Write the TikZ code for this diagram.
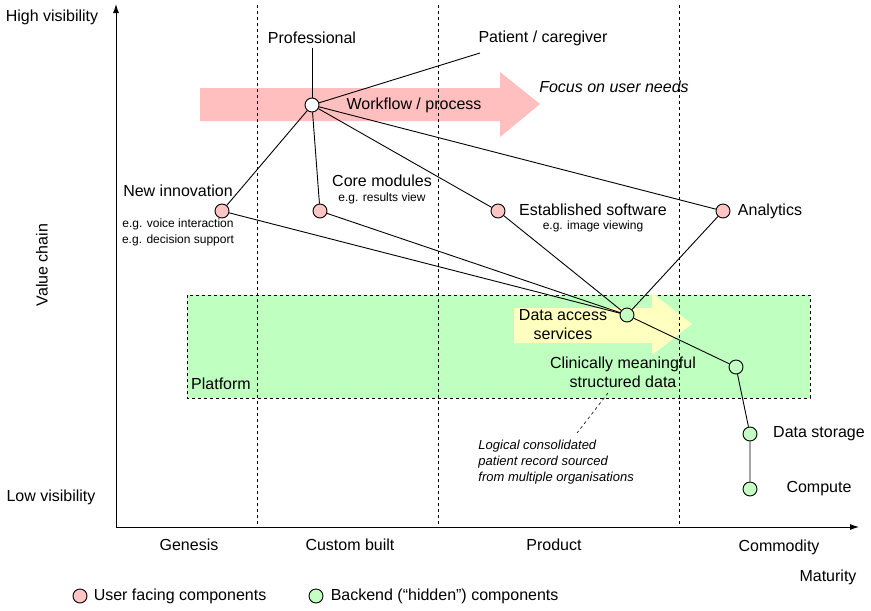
\documentclass[tikz,border=0pt]{standalone}
\usepackage{fontspec}
\setmainfont{Liberation Sans}
\usetikzlibrary{arrows.meta}
\definecolor{userpink}{HTML}{FFC4C4}
\definecolor{backgreen}{HTML}{C4FFC4}
\definecolor{flowpink}{HTML}{FFBFBF}
\definecolor{platgreen}{HTML}{BFFFBF}
\definecolor{accyellow}{HTML}{FFFFC0}

\begin{document}
\begin{tikzpicture}[x=1pt,y=-1pt,line width=0.9pt,
		comp/.style={circle,draw,minimum size=14pt,inner sep=0pt},
		user/.style={comp,fill=userpink},
		back/.style={comp,fill=backgreen},
		big/.style={font=\fontsize{16}{19}\selectfont},
		small/.style={font=\fontsize{12}{16}\selectfont},
		phase/.style={dash pattern=on 3pt off 3pt}]
		\useasboundingbox (0,0) rectangle (871,611);
		% backgrounds
		\fill[flowpink] (200,88) -- (500,88) -- (500,72) -- (540,104) -- (500,137) -- (500,121) -- (200,121) -- cycle;
		\filldraw[fill=platgreen,phase] (187,295) rectangle (810,398);
		\fill[accyellow] (514,308) -- (652,308) -- (652,293) -- (692,324) -- (652,355) -- (652,343) -- (514,343) -- cycle;
		% axes
		\draw[-{Latex[length=9pt,width=6pt]}] (116,527) -- (116,4);
		\draw[-{Latex[length=9pt,width=6pt]}] (116,527) -- (859,527);
		\foreach \x in {257,438,679}
		\draw[phase] (\x,5) -- (\x,527);
		\node[big] (hivis) at (52,17) {High visibility};
		\node[big] (lovis) at (51,497) {Low visibility};
		\node[big,rotate=90] (vchain) at (42,265) {Value chain};
		\foreach \t/\x in {Genesis/189,Custom built/350,Product/554}
		\node[big] (ph\x) at (\x,545) {\t};
		\node[big] (comm) at (779,547) {Commodity};
		\node[big] (mat) at (828,577) {Maturity};
		\node[big] (plat) at (221,384) {Platform};
		\node[big] (wftxt) at (414,105) {Workflow / process};
		\node[big] (focus) at (614,87) {\itshape Focus on user needs};
		\node[big,align=center] (dacctxt) at (563,325) {Data access\\services};
		\node[big,align=center] (sdtxt) at (623,372) {Clinically meaningful\\structured data};
		% components
		\node[comp,fill=white] (w) at (312,105) {};
		\node[user] (inno) at (222,211) {};
		\node[user] (core) at (320,211) {};
		\node[user] (estab) at (498,211) {};
		\node[user] (anal) at (723,211) {};
		\node[comp,fill=backgreen] (dacc) at (627,315) {};
		\node[back] (sdata) at (736,367) {};
		\node[back] (store) at (750,434) {};
		\node[back] (cpu) at (750,489) {};
		\node[big] (prof) at (312,38) {Professional};
		\node[big] (pat) at (543,38) {Patient / caregiver};
		\coordinate (patend) at (480,53);
		\node[big] (innotxt) at (178,191) {New innovation};
		\node[small,align=center] (innosub) at (178,232) {e.g. voice interaction\\e.g. decision support};
		\node[big] (coretxt) at (382,181) {Core modules};
		\node[small] (coresub) at (382,198) {e.g. results view};
		\node[big] (estabtxt) at (593,210) {Established software};
		\node[small] (estabsub) at (593,226) {e.g. image viewing};
		\node[big] (analtxt) at (770,211) {Analytics};
		\node[big] (storetxt) at (819,434) {Data storage};
		\node[big] (cputxt) at (819,489) {Compute};
		% links
		\draw (prof.south) -- (w);
		\draw (w) -- (patend);
		\foreach \n in {inno,core,estab,anal}
		\draw (w) -- (\n);
		\foreach \n in {inno,core,estab,anal}
		\draw (\n) -- (dacc);
		\draw (dacc) -- (sdata) -- (store) -- (cpu);
		% note
		\coordinate (notetip) at (608,393);
		\node[font=\fontsize{13}{16}\selectfont,align=left,anchor=north west,inner sep=0pt] (note) at (478,440) {\itshape Logical consolidated\\\itshape patient record sourced\\\itshape from multiple organisations};
		\draw[dash pattern=on 3pt off 3pt,line width=0.6pt] (notetip) -- (577,433);
		% legend
		\node[user] (keyuser) at (80,596) {};
		\node[big,anchor=west] (keyusertxt) at (90,596) {User facing components};
		\node[back] (keyback) at (316,596) {};
		\node[big,anchor=west] (keybacktxt) at (327,596) {Backend (“hidden”) components};
	\end{tikzpicture}
\end{document}
